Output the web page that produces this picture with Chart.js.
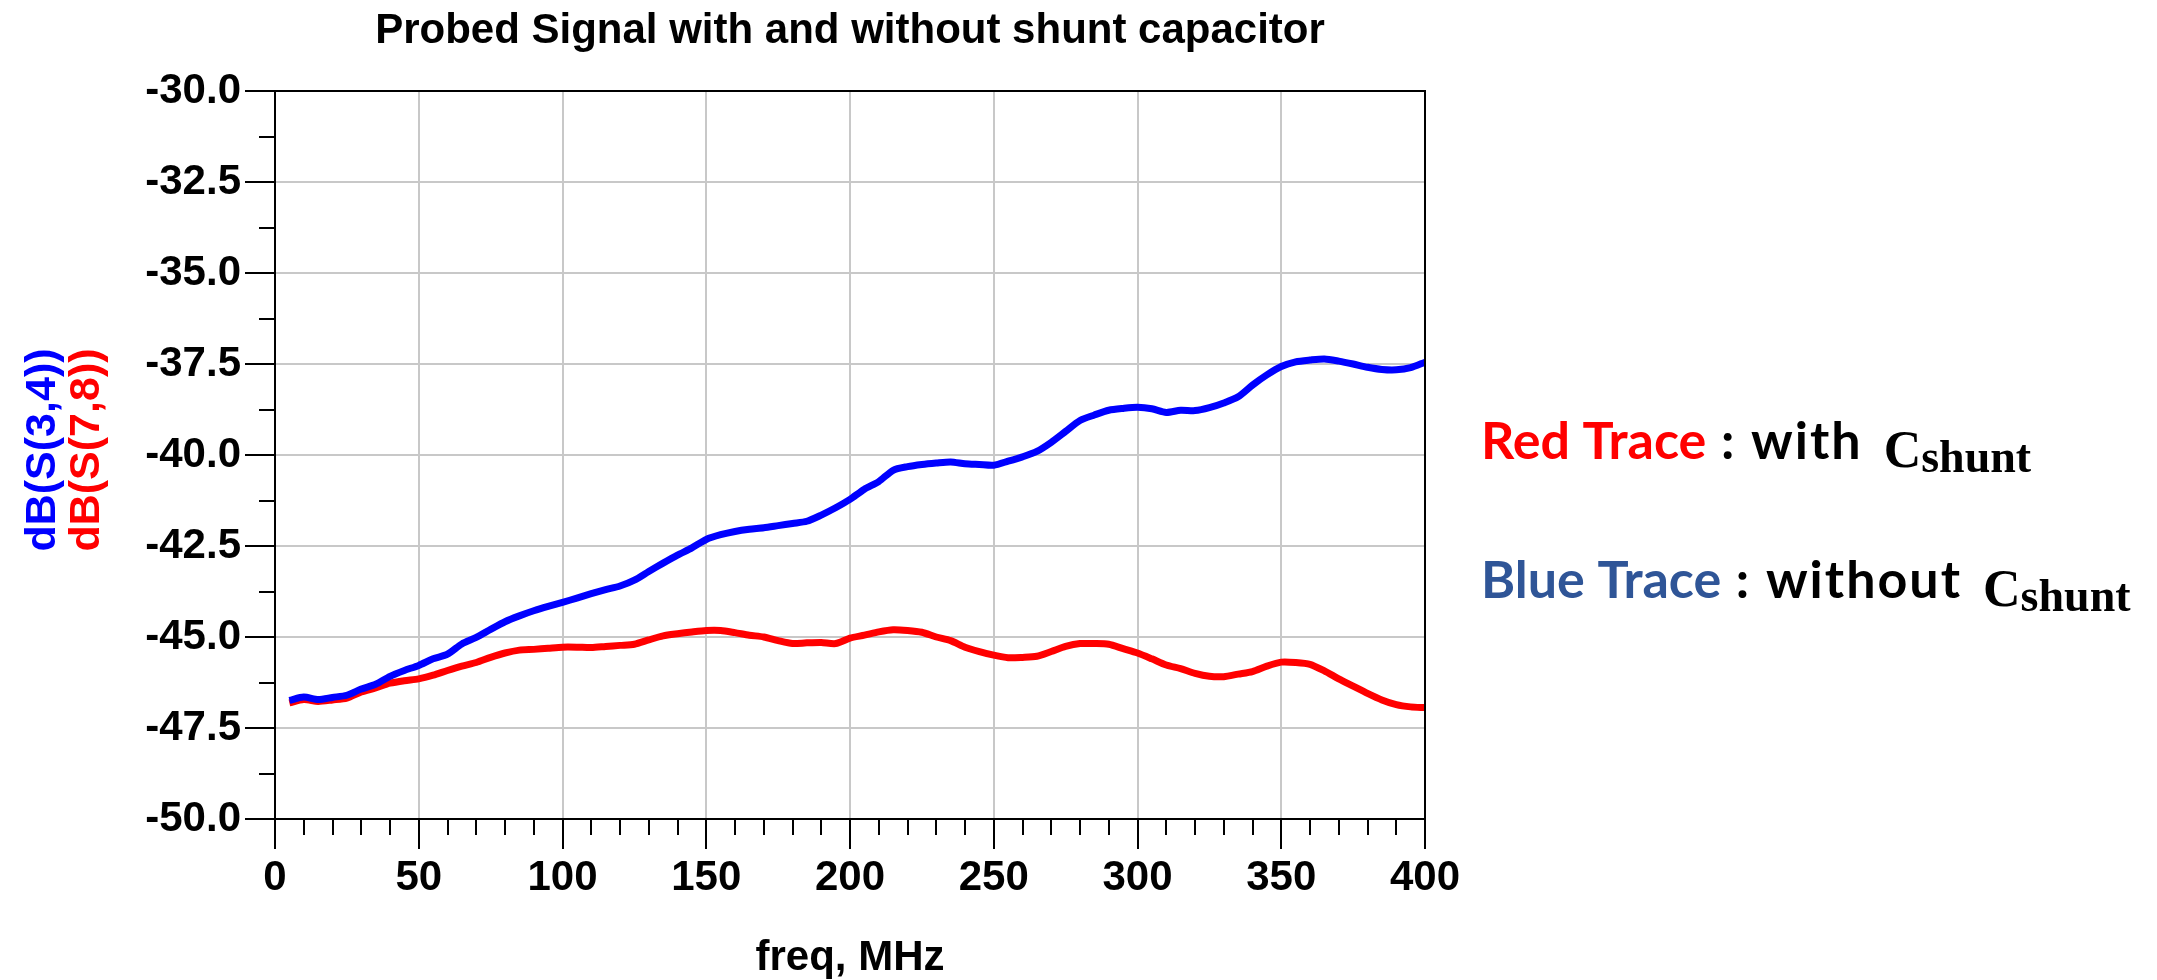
<!DOCTYPE html>
<html>
<head>
<meta charset="utf-8">
<title>Probed Signal with and without shunt capacitor</title>
<script src="https://cdn.jsdelivr.net/npm/chart.js@4.4.1/dist/chart.umd.min.js"></script>
<style>
  html, body { margin: 0; padding: 0; background: #fff; overflow: hidden; }
  canvas { display: block; }
</style>
</head>
<body>
<canvas id="probe-chart" width="2157" height="980"></canvas>
<script>
// frequency sweep, MHz
const freq = [
  5, 10, 15, 20, 25, 30, 35, 40, 45, 50, 55, 60, 65, 70, 75, 80, 85, 90, 95, 100,
  105, 110, 115, 120, 125, 130, 135, 140, 145, 150, 155, 160, 165, 170, 175, 180, 185, 190, 195, 200,
  205, 210, 215, 220, 225, 230, 235, 240, 245, 250, 255, 260, 265, 270, 275, 280, 285, 290, 295, 300,
  305, 310, 315, 320, 325, 330, 335, 340, 345, 350, 355, 360, 365, 370, 375, 380, 385, 390, 395, 400
];

// dB(S(3,4)) - probe without shunt capacitor
const s34 = [
  -46.74, -46.65, -46.72, -46.66, -46.60, -46.43, -46.30, -46.08, -45.92, -45.78,
  -45.60, -45.47, -45.19, -45.01, -44.79, -44.58, -44.42, -44.28, -44.16, -44.05,
  -43.93, -43.81, -43.70, -43.60, -43.44, -43.20, -42.97, -42.75, -42.55, -42.32,
  -42.19, -42.10, -42.04, -42.00, -41.94, -41.88, -41.82, -41.65, -41.45, -41.22,
  -40.94, -40.73, -40.42, -40.32, -40.26, -40.22, -40.19, -40.24, -40.26, -40.28,
  -40.17, -40.05, -39.90, -39.65, -39.35, -39.05, -38.90, -38.77, -38.72, -38.69,
  -38.73, -38.83, -38.77, -38.78, -38.70, -38.57, -38.40, -38.08, -37.80, -37.57,
  -37.44, -37.39, -37.36, -37.42, -37.50, -37.59, -37.65, -37.66, -37.60, -37.45
];

// dB(S(7,8)) - probe with shunt capacitor
const s78 = [
  -46.81, -46.72, -46.77, -46.73, -46.68, -46.51, -46.40, -46.27, -46.20, -46.15,
  -46.05, -45.92, -45.80, -45.70, -45.56, -45.44, -45.36, -45.34, -45.31, -45.28,
  -45.28, -45.29, -45.26, -45.23, -45.20, -45.08, -44.97, -44.91, -44.86, -44.82,
  -44.82, -44.88, -44.95, -45.00, -45.10, -45.18, -45.16, -45.15, -45.18, -45.03,
  -44.95, -44.86, -44.80, -44.82, -44.87, -45.00, -45.10, -45.28, -45.40, -45.50,
  -45.57, -45.56, -45.53, -45.40, -45.26, -45.18, -45.18, -45.20, -45.32, -45.44,
  -45.60, -45.77, -45.87, -46.00, -46.08, -46.09, -46.02, -45.95, -45.80, -45.69,
  -45.70, -45.75, -45.93, -46.15, -46.35, -46.55, -46.73, -46.86, -46.92, -46.94
];

const xTicks = [0, 50, 100, 150, 200, 250, 300, 350, 400];
const yTicks = [-50, -47.5, -45, -42.5, -40, -37.5, -35, -32.5, -30];

const toPoints = (ys) => freq.map((f, i) => ({ x: f, y: ys[i] }));

Chart.defaults.font.family = '"Liberation Sans", Arial, sans-serif';
Chart.defaults.font.weight = 'bold';
Chart.defaults.color = '#000';

// plot frame, minor ticks and all the free text around the plot
const decorations = {
  id: 'decorations',
  afterDraw(chart) {
    const { ctx, chartArea: a, scales: { x, y } } = chart;
    ctx.save();

    ctx.strokeStyle = '#000';
    ctx.lineWidth = 2;
    ctx.strokeRect(a.left, a.top, a.right - a.left, a.bottom - a.top);

    ctx.beginPath();
    for (let i = 0; i < xTicks.length - 1; i++) {
      const step = (xTicks[i + 1] - xTicks[i]) / 5;
      for (let k = 1; k < 5; k++) {
        const px = Math.round(x.getPixelForValue(xTicks[i] + k * step));
        ctx.moveTo(px, a.bottom);
        ctx.lineTo(px, a.bottom + 16);
      }
    }
    for (let i = 0; i < yTicks.length - 1; i++) {
      const py = Math.round(y.getPixelForValue((yTicks[i] + yTicks[i + 1]) / 2));
      ctx.moveTo(a.left, py);
      ctx.lineTo(a.left - 16, py);
    }
    ctx.stroke();

    const mid = (a.left + a.right) / 2;
    ctx.fillStyle = '#000';
    ctx.textAlign = 'center';
    ctx.textBaseline = 'alphabetic';
    ctx.font = 'bold 42px "Liberation Sans", Arial, sans-serif';
    ctx.fillText('Probed Signal with and without shunt capacitor', mid, 43);
    ctx.fillText('freq, MHz', mid, 970);

    // stacked y-axis titles, one per trace colour
    ctx.font = 'bold 43px "Liberation Sans", Arial, sans-serif';
    const ymid = (a.top + a.bottom) / 2 - 5;
    [['dB(S(3,4))', '#0000ff', 55], ['dB(S(7,8))', '#ff0000', 99]].forEach(([t, c, bx]) => {
      ctx.save();
      ctx.translate(bx, ymid);
      ctx.rotate(-Math.PI / 2);
      ctx.fillStyle = c;
      ctx.fillText(t, 0, 0);
      ctx.restore();
    });

    // trace key on the right
    ctx.textAlign = 'left';
    const sans = 'bold 52px Lato, "Open Sans", sans-serif';
    const serif = '"Liberation Serif", "DejaVu Serif", serif';
    const key = (base, name, color, rest) => {
      ctx.font = sans;
      ctx.fillStyle = color;
      ctx.fillText(name, 1481, base);
      let cx = 1481 + ctx.measureText(name).width;
      ctx.fillStyle = '#000';
      ctx.letterSpacing = '2px';
      ctx.fillText(rest, cx, base);
      cx += ctx.measureText(rest).width + 21;
      ctx.letterSpacing = '0px';
      ctx.font = 'bold 52px ' + serif;
      ctx.fillText('C', cx, base + 8);
      cx += ctx.measureText('C').width;
      ctx.font = 'bold 46px ' + serif;
      ctx.fillText('shunt', cx, base + 13);
    };
    key(459, 'Red Trace', '#ff0000', ' : with');
    key(598, 'Blue Trace', '#2f5597', ' : without');

    ctx.restore();
  }
};

new Chart(document.getElementById('probe-chart'), {
  type: 'line',
  data: {
    datasets: [{
      label: 'dB(S(3,4))',
      data: toPoints(s34),
      borderColor: '#0000ff',
      borderWidth: 7,
      pointRadius: 0,
      tension: 0.25
    }, {
      label: 'dB(S(7,8))',
      data: toPoints(s78),
      borderColor: '#ff0000',
      borderWidth: 7,
      pointRadius: 0,
      tension: 0.25
    }]
  },
  options: {
    responsive: false,
    animation: false,
    devicePixelRatio: 1,
    layout: { padding: { top: 91, right: 732, left: 0, bottom: 0 } },
    plugins: {
      legend: { display: false },
      tooltip: { enabled: false },
      title: { display: false }
    },
    scales: {
      x: {
        type: 'linear',
        min: 0,
        max: 400,
        afterBuildTicks: (s) => { s.ticks = xTicks.map(v => ({ value: v })); },
        afterFit: (s) => { s.height = 161; },
        ticks: { font: { size: 42 }, padding: 4, maxRotation: 0 },
        grid: { color: '#c8c8c8', lineWidth: 2, tickColor: '#000', tickWidth: 2, tickLength: 30 },
        border: { color: '#000', width: 2 }
      },
      y: {
        type: 'linear',
        min: -50,
        max: -30,
        afterBuildTicks: (s) => { s.ticks = yTicks.map(v => ({ value: v })); },
        afterFit: (s) => { s.width = 275; },
        ticks: { font: { size: 42 }, padding: 4, callback: (v) => v.toFixed(1) },
        grid: { color: '#c8c8c8', lineWidth: 2, tickColor: '#000', tickWidth: 2, tickLength: 30 },
        border: { color: '#000', width: 2 }
      }
    }
  },
  plugins: [decorations]
});
</script>
</body>
</html>
